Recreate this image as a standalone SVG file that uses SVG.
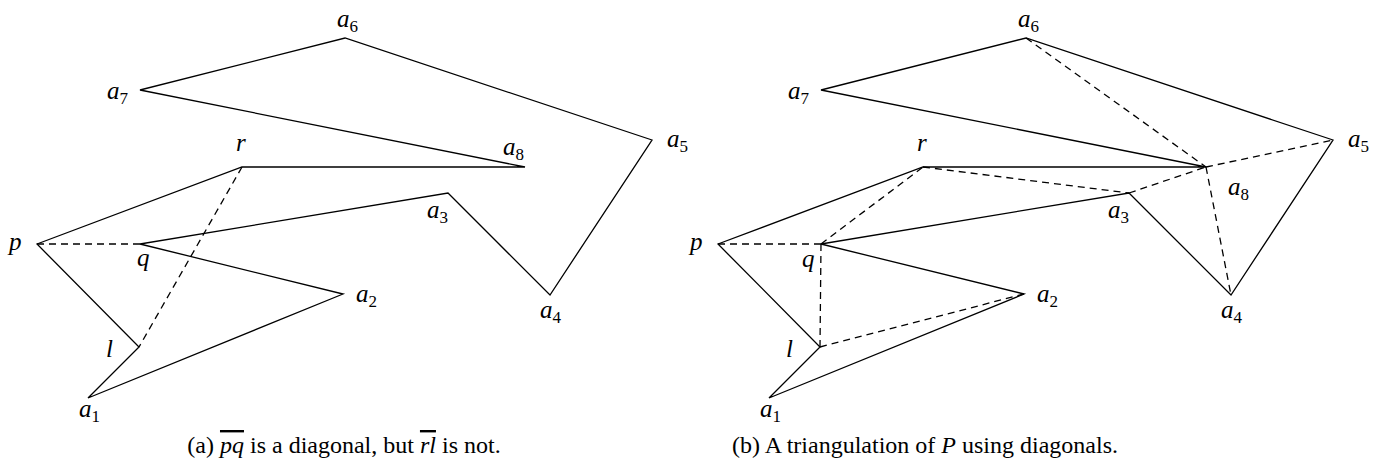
<svg xmlns="http://www.w3.org/2000/svg" width="1384" height="474" viewBox="0 0 1384 474">
<style>
.edge{fill:none;stroke:#000;stroke-width:1.3;stroke-linejoin:miter}
.diag{fill:none;stroke:#000;stroke-width:1.3;stroke-dasharray:7 5}
.lbl{font-style:italic;font-size:25px;fill:#000}
.sub{font-style:normal;font-size:17px}
.cap{font-size:24px;fill:#000}
.it{font-style:italic}
</style>
<rect width="1384" height="474" fill="#fff"/>
<g id="fig-a" font-family="Liberation Serif, Times New Roman, DejaVu Serif, serif">
<g id="connectors-a">
<polygon class="edge" points="37,244 242,167 525,167 140,90 345,38 652,140 550,295 448,193 140,244 343,294 88,398 139,347"/>
<line class="diag" x1="37" y1="244" x2="140" y2="244"/>
<line class="diag" x1="242" y1="167" x2="139" y2="347"/>
</g>
<g id="a-a6"><text class="lbl" x="337" y="27">a<tspan class="sub" dy="5">6</tspan></text></g>
<g id="a-a7"><text class="lbl" x="107" y="99">a<tspan class="sub" dy="5">7</tspan></text></g>
<g id="a-r"><text class="lbl" x="236" y="151">r</text></g>
<g id="a-a8"><text class="lbl" x="503" y="155">a<tspan class="sub" dy="5">8</tspan></text></g>
<g id="a-a5"><text class="lbl" x="667" y="147">a<tspan class="sub" dy="5">5</tspan></text></g>
<g id="a-p"><text class="lbl" x="9" y="250">p</text></g>
<g id="a-q"><text class="lbl" x="137" y="266">q</text></g>
<g id="a-a3"><text class="lbl" x="427" y="218">a<tspan class="sub" dy="5">3</tspan></text></g>
<g id="a-a2"><text class="lbl" x="356" y="302">a<tspan class="sub" dy="5">2</tspan></text></g>
<g id="a-a4"><text class="lbl" x="540" y="318">a<tspan class="sub" dy="5">4</tspan></text></g>
<g id="a-l"><text class="lbl" x="106" y="357">l</text></g>
<g id="a-a1"><text class="lbl" x="79" y="417">a<tspan class="sub" dy="5">1</tspan></text></g>
<g id="cap-a"><text class="cap" x="344" y="453" text-anchor="middle">(a) <tspan class="it" text-decoration="overline">pq</tspan> is a diagonal, but <tspan class="it" text-decoration="overline">rl</tspan> is not.</text></g>
</g>
<g id="fig-b" font-family="Liberation Serif, Times New Roman, DejaVu Serif, serif">
<g id="connectors-b">
<polygon class="edge" points="718,244 923,167 1206,167 821,90 1026,38 1333,140 1231,295 1129,193 821,244 1024,294 769,398 820,347"/>
<line class="diag" x1="718" y1="244" x2="821" y2="244"/>
<line class="diag" x1="821" y1="244" x2="923" y2="167"/>
<line class="diag" x1="821" y1="244" x2="820" y2="347"/>
<line class="diag" x1="820" y1="347" x2="1024" y2="294"/>
<line class="diag" x1="923" y1="167" x2="1129" y2="193"/>
<line class="diag" x1="1129" y1="193" x2="1206" y2="167"/>
<line class="diag" x1="1206" y1="167" x2="1333" y2="140"/>
<line class="diag" x1="1206" y1="167" x2="1231" y2="295"/>
<line class="diag" x1="1026" y1="38" x2="1206" y2="167"/>
</g>
<g id="b-a6"><text class="lbl" x="1018" y="27">a<tspan class="sub" dy="5">6</tspan></text></g>
<g id="b-a7"><text class="lbl" x="788" y="99">a<tspan class="sub" dy="5">7</tspan></text></g>
<g id="b-r"><text class="lbl" x="917" y="151">r</text></g>
<g id="b-a8"><text class="lbl" x="1228" y="195">a<tspan class="sub" dy="5">8</tspan></text></g>
<g id="b-a5"><text class="lbl" x="1348" y="147">a<tspan class="sub" dy="5">5</tspan></text></g>
<g id="b-p"><text class="lbl" x="690" y="250">p</text></g>
<g id="b-q"><text class="lbl" x="802" y="267">q</text></g>
<g id="b-a3"><text class="lbl" x="1108" y="218">a<tspan class="sub" dy="5">3</tspan></text></g>
<g id="b-a2"><text class="lbl" x="1037" y="302">a<tspan class="sub" dy="5">2</tspan></text></g>
<g id="b-a4"><text class="lbl" x="1221" y="318">a<tspan class="sub" dy="5">4</tspan></text></g>
<g id="b-l"><text class="lbl" x="786" y="357">l</text></g>
<g id="b-a1"><text class="lbl" x="760" y="417">a<tspan class="sub" dy="5">1</tspan></text></g>
<g id="cap-b"><text class="cap" x="925" y="453" text-anchor="middle">(b) A triangulation of <tspan class="it">P</tspan> using diagonals.</text></g>
</g>
</svg>
